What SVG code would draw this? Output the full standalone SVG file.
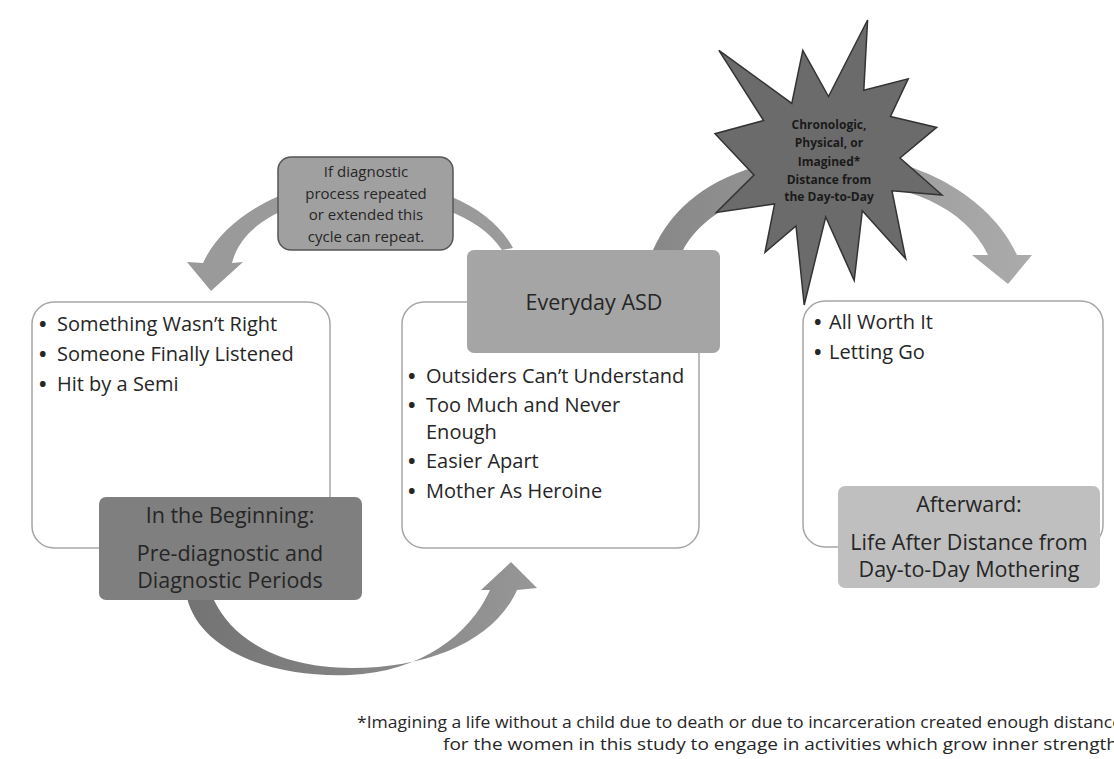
<svg xmlns="http://www.w3.org/2000/svg" width="1114" height="759" viewBox="0 0 1114 759">
<defs>
<style>
.t{font-family:"Open Sans","Noto Sans","Liberation Sans",sans-serif;fill:#262626}
.b{font-size:20px}
.dot{font-size:20px;font-weight:bold}
.l{font-size:21.5px;text-anchor:middle}
.s{font-size:15px;text-anchor:middle}
.st{font-size:12px;font-weight:bold;text-anchor:middle;fill:#1a1a1a}
.fn{font-size:15.5px}
.box{fill:#ffffff;stroke:#a6a6a6;stroke-width:1.5}
</style>
<linearGradient id="gBottom" x1="180" y1="0" x2="540" y2="0" gradientUnits="userSpaceOnUse">
<stop offset="0" stop-color="#727272"/>
<stop offset="1" stop-color="#979797"/>
</linearGradient>
<linearGradient id="gRight" x1="650" y1="0" x2="1030" y2="0" gradientUnits="userSpaceOnUse">
<stop offset="0" stop-color="#878787"/>
<stop offset="1" stop-color="#ababab"/>
</linearGradient>
</defs>
<rect width="1114" height="759" fill="#ffffff"/>

<g id="connectors">
<path id="arrow-repeat" fill="#9a9a9a" d="M513,248 C490,205 430,180 360,180 C290,180 225,215 203,263 L187,262 L211,291 L243,262 L232,263 C242,222 295,195 365,196 C420,196 480,215 502,250 Z"/>
<path id="arrow-bottom" fill="url(#gBottom)" d="M187,598 C200,650 270,678 350,675 C420,672 470,635 490,590 L481,590 L511,562 L537,588 L517,590 C495,640 430,668 352,668 C280,668 232,640 213,598 Z"/>
<path id="arrow-distance" fill="url(#gRight)" d="M653,250 C680,190 740,160 830,155 C910,152 990,195 1017,255 L1032,255 L1008,284 L972,255 L988,255 C965,205 900,180 830,182 C760,184 705,210 683,250 Z"/>
</g>

<g id="node-beginning">
<rect class="box" x="32" y="302" width="298" height="246" rx="22"/>
<text class="t dot" x="39" y="331">•</text><text class="t b" x="57" y="331">Something Wasn’t Right</text>
<text class="t dot" x="39" y="361">•</text><text class="t b" x="57" y="361">Someone Finally Listened</text>
<text class="t dot" x="39" y="391">•</text><text class="t b" x="57" y="391">Hit by a Semi</text>
<rect x="99" y="497" width="263" height="103" rx="7" fill="#7f7f7f"/>
<text class="t l" x="230" y="523">In the Beginning:</text>
<text class="t l" x="230" y="561">Pre-diagnostic and</text>
<text class="t l" x="230" y="588">Diagnostic Periods</text>
</g>

<g id="node-everyday">
<rect class="box" x="402" y="302" width="297" height="246" rx="22"/>
<text class="t dot" x="408" y="383">•</text><text class="t b" x="426" y="383">Outsiders Can’t Understand</text>
<text class="t dot" x="408" y="412">•</text><text class="t b" x="426" y="412">Too Much and Never</text>
<text class="t b" x="426" y="439">Enough</text>
<text class="t dot" x="408" y="468">•</text><text class="t b" x="426" y="468">Easier Apart</text>
<text class="t dot" x="408" y="498">•</text><text class="t b" x="426" y="498">Mother As Heroine</text>
<rect x="467" y="250" width="253" height="103" rx="7" fill="#a5a5a5"/>
<text class="t l" x="594" y="310">Everyday ASD</text>
</g>

<g id="node-afterward">
<rect class="box" x="803" y="301" width="300" height="246" rx="22"/>
<text class="t dot" x="814" y="329">•</text><text class="t b" x="829" y="329">All Worth It</text>
<text class="t dot" x="814" y="359">•</text><text class="t b" x="829" y="359">Letting Go</text>
<rect x="838" y="486" width="262" height="102" rx="7" fill="#bfbfbf"/>
<text class="t l" x="969" y="512">Afterward:</text>
<text class="t l" x="969" y="550">Life After Distance from</text>
<text class="t l" x="969" y="577">Day-to-Day Mothering</text>
</g>

<g id="node-repeat-note">
<rect x="278" y="157" width="175" height="93" rx="13" fill="#a0a0a0" stroke="#555555" stroke-width="1.5"/>
<text class="t s" x="366" y="177">If diagnostic</text>
<text class="t s" x="366" y="199">process repeated</text>
<text class="t s" x="366" y="220">or extended this</text>
<text class="t s" x="366" y="242">cycle can repeat.</text>
</g>

<g id="node-distance">
<polygon fill="#6b6b6b" stroke="#333333" stroke-width="1.5" stroke-linejoin="miter" points="828.5,96.5 867.6,20 863.8,90.3 908.2,78.8 890.5,116.5 936.7,127.4 900,158 942,195 892,190.8 905.7,258.8 862.3,210.8 854.2,280.4 825.7,217 804.2,305 796,226 765,252.4 774.6,203.9 716.4,212.5 754,175 715,133.7 763.6,120.5 718.9,50.3 791.8,103.4 802.8,50.3"/>
<text class="t st" x="829" y="129">Chronologic,</text>
<text class="t st" x="829" y="147">Physical, or</text>
<text class="t st" x="829" y="166">Imagined*</text>
<text class="t st" x="829" y="184">Distance from</text>
<text class="t st" x="829" y="201">the Day-to-Day</text>
</g>

<g id="footnote">
<text class="t fn" x="357" y="728" textLength="765" lengthAdjust="spacingAndGlyphs">*Imagining a life without a child due to death or due to incarceration created enough distance</text>
<text class="t fn" x="443" y="750" textLength="680" lengthAdjust="spacingAndGlyphs">for the women in this study to engage in activities which grow inner strength.</text>
</g>
</svg>
